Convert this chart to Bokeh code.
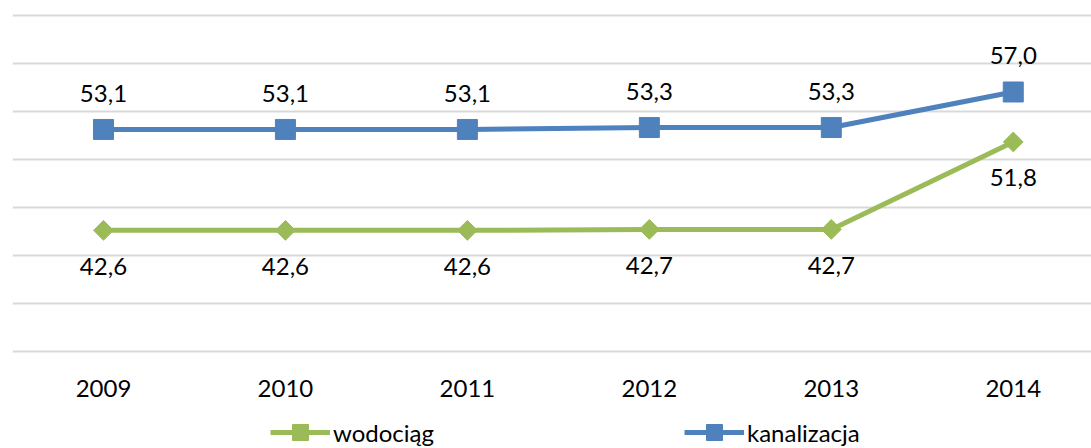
import numpy as np
from bokeh.plotting import figure
from bokeh.models import ColumnDataSource, FixedTicker, Legend, LegendItem, Range1d
from bokeh.core.properties import value
from bokeh.embed import file_html
from bokeh.resources import INLINE

years = ["2009", "2010", "2011", "2012", "2013", "2014"]
wodociag = [42.6, 42.6, 42.6, 42.7, 42.7, 51.8]
kanalizacja = [53.1, 53.1, 53.1, 53.3, 53.3, 57.0]
y_ticks = [30, 35, 40, 45, 50, 55, 60, 65]

GREEN = "#9BBB59"
BLUE = "#4F81BD"
FONT = "Lato"
FS = "24px"

x = list(range(len(years)))
src = ColumnDataSource(dict(
    x=x,
    w=wodociag,
    k=kanalizacja,
    wl=[f"{v:.1f}".replace(".", ",") for v in wodociag],
    kl=[f"{v:.1f}".replace(".", ",") for v in kanalizacja],
))

p = figure(width=1091, height=448, output_backend="svg", toolbar_location=None,
           x_range=Range1d(-0.5, 5.43), y_range=Range1d(19.9, 66.0),
           min_border_left=12, min_border_right=0, min_border_top=5, min_border_bottom=0)
p.outline_line_color = None
p.background_fill_color = "white"
p.border_fill_color = "white"

p.yaxis.visible = False
p.xgrid.visible = False
p.ygrid.ticker = FixedTicker(ticks=y_ticks)
p.ygrid.grid_line_color = "#D9D9D9"
p.ygrid.grid_line_width = 2

xa = p.xaxis[0]
xa.fixed_location = y_ticks[0]
xa.ticker = FixedTicker(ticks=x)
xa.major_label_overrides = {i: y for i, y in enumerate(years)}
xa.axis_line_color = None
xa.major_tick_line_color = None
xa.minor_tick_line_color = None
xa.major_label_standoff = 23
xa.major_label_text_font = FONT
xa.major_label_text_font_size = FS
xa.major_label_text_color = "black"

gl = p.line("x", "w", source=src, line_color=GREEN, line_width=5)
gs = p.scatter("x", "w", source=src, marker="square", angle=np.pi / 4, size=14,
               fill_color=GREEN, line_color=GREEN)
bl = p.line("x", "k", source=src, line_color=BLUE, line_width=5)
bs = p.scatter("x", "k", source=src, marker="square", size=20,
               fill_color=BLUE, line_color=BLUE)

p.text("x", "k", text="kl", source=src, y_offset=-36, text_align="center",
       text_baseline="middle", text_font=value(FONT), text_font_size=FS, text_color="black")
p.text("x", "w", text="wl", source=src, y_offset=36, text_align="center",
       text_baseline="middle", text_font=value(FONT), text_font_size=FS, text_color="black")

legend = Legend(items=[LegendItem(label="wodociąg", renderers=[gl, gs]),
                       LegendItem(label="kanalizacja", renderers=[bl, bs])],
                orientation="horizontal", location=(258, -4))
legend.border_line_color = None
legend.background_fill_alpha = 0
legend.glyph_width = 60
legend.glyph_height = 40
legend.spacing = 250
legend.label_standoff = 3
legend.padding = 0
legend.margin = 0
legend.label_text_font = FONT
legend.label_text_font_size = FS
legend.label_text_color = "black"
p.add_layout(legend, "center")

open("out.html", "w").write(file_html(p, INLINE))
